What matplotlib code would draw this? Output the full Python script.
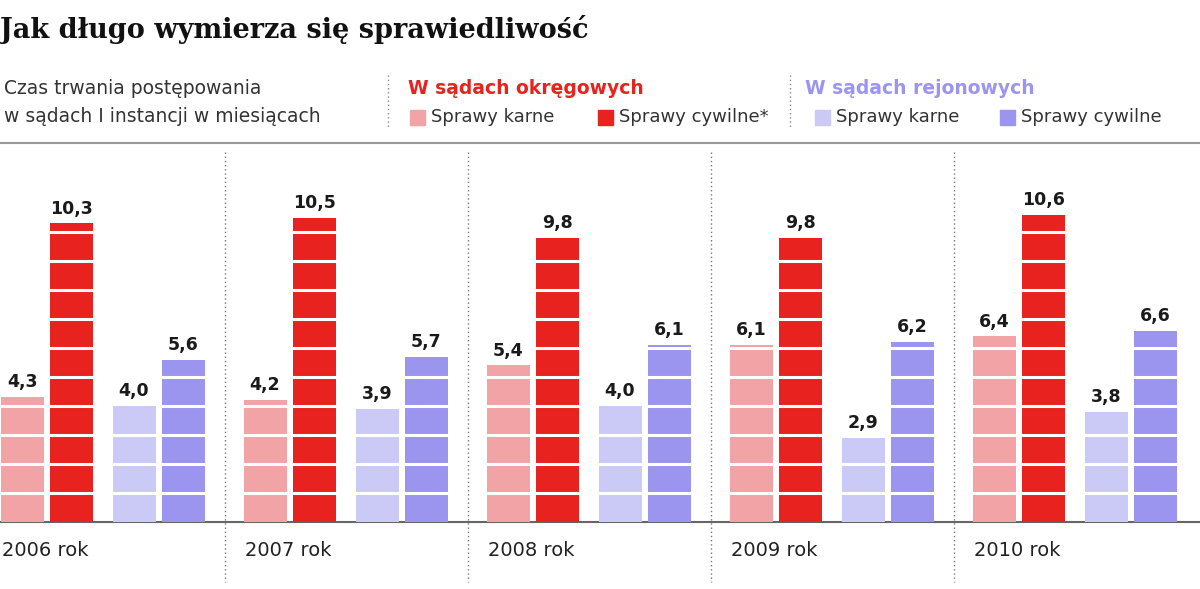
import matplotlib.pyplot as plt
from matplotlib.patches import Rectangle

years = ["2006 rok", "2007 rok", "2008 rok", "2009 rok", "2010 rok"]
okr_karne = [4.3, 4.2, 5.4, 6.1, 6.4]
okr_cywilne = [10.3, 10.5, 9.8, 9.8, 10.6]
rej_karne = [4.0, 3.9, 4.0, 2.9, 3.8]
rej_cywilne = [5.6, 5.7, 6.1, 6.2, 6.6]

colors = ["#f2a3a6", "#e8221f", "#cbc9f6", "#9b95ef"]
series = [okr_karne, okr_cywilne, rej_karne, rej_cywilne]

W, H = 1200, 589
fig = plt.figure(figsize=(12, 5.89), dpi=100)

# overlay axes in pixel coords for texts and lines
ov = fig.add_axes([0, 0, 1, 1])
ov.set_xlim(0, W)
ov.set_ylim(H, 0)
ov.axis("off")

# bar axes: baseline at y=522px, 29 px per month
base, ppu, top = 522, 29.0, 150
ax = fig.add_axes([0, (H - base) / H, 1, (base - top) / H])
ax.set_xlim(0, W)
ax.set_ylim(0, (base - top) / ppu)
ax.axis("off")
ax.patch.set_alpha(0)

group_w = 243
offsets = [22, 71.5, 134, 183]
bw = 43
for i, yr in enumerate(years):
    x0 = i * group_w
    for s, off, c in zip(series, offsets, colors):
        v = s[i]
        cx = x0 + off
        ax.bar(cx, v, width=bw, color=c, edgecolor="none")
        k = 1
        while k < v:
            ax.plot([cx - bw / 2, cx + bw / 2], [k, k], color="white", lw=2.2)
            k += 1
        ax.text(cx, v + 0.2, f"{v:.1f}".replace(".", ","), ha="center", va="bottom",
                fontsize=12.5, fontweight="bold", color="#1a1a1a")
    ov.text(x0 + 2, 550, yr, ha="left", va="center", fontsize=14, color="#222222")
    if i > 0:
        ov.plot([x0 - 18, x0 - 18], [152, 582], color="#777777", lw=1, ls=(0, (1, 2)))

ov.plot([0, W], [base, base], color="#666666", lw=1.5)
ov.plot([0, W], [143, 143], color="#999999", lw=1.5)

ov.text(0, 30, "Jak długo wymierza się sprawiedliwość", fontsize=19.5, fontweight="bold",
        family="DejaVu Serif", va="center", ha="left", color="#111111")
ov.text(4, 88, "Czas trwania postępowania", fontsize=13.5, va="center", color="#333333")
ov.text(4, 117, "w sądach I instancji w miesiącach", fontsize=13.5, va="center", color="#333333")
ov.plot([388, 388], [75, 128], color="#888888", lw=1, ls=(0, (1, 2)))
ov.plot([790, 790], [75, 128], color="#888888", lw=1, ls=(0, (1, 2)))
ov.text(408, 88, "W sądach okręgowych", fontsize=13.5, fontweight="bold", va="center", color="#e8221f")
ov.text(805, 88, "W sądach rejonowych", fontsize=13.5, fontweight="bold", va="center", color="#9b95ef")
legend = [(410, "Sprawy karne", colors[0]), (598, "Sprawy cywilne*", colors[1]),
          (815, "Sprawy karne", colors[2]), (1000, "Sprawy cywilne", colors[3])]
for x, lab, c in legend:
    ov.add_patch(Rectangle((x, 110), 15, 15, color=c))
    ov.text(x + 21, 117, lab, fontsize=13, va="center", color="#333333")

fig.savefig("out.png", dpi=100)
